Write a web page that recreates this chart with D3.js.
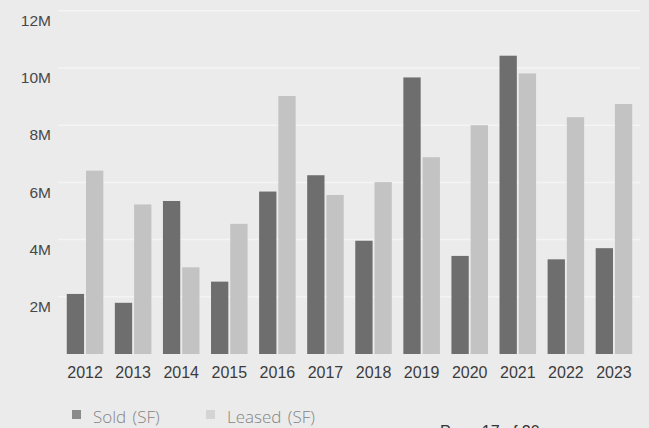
<!DOCTYPE html>
<html>
<head>
<meta charset="utf-8">
<script src="https://cdn.jsdelivr.net/npm/d3@7/dist/d3.min.js"></script>
<style>
  html, body { margin: 0; padding: 0; background: #ebebeb; overflow: hidden; }
  svg { display: block; }
</style>
</head>
<body>
<svg id="chart" width="649" height="428"></svg>
<script>
// Annual square footage sold vs. leased, in millions of SF
const years = ["2012","2013","2014","2015","2016","2017","2018","2019","2020","2021","2022","2023"];
const seriesNames = ["Sold (SF)", "Leased (SF)"];
const sold   = [2.10, 1.79, 5.35, 2.53, 5.68, 6.25, 3.96, 9.67, 3.43, 10.43, 3.31, 3.70];
const leased = [6.41, 5.23, 3.03, 4.55, 9.02, 5.56, 6.01, 6.88, 8.00, 9.81, 8.28, 8.74];
const yTicks = [2, 4, 6, 8, 10, 12];
const yTickLabels = ["2M", "4M", "6M", "8M", "10M", "12M"];
const footerText = "Page 17 of 20";

const W = 649, H = 428;
const svg = d3.select("#chart");

svg.append("rect").attr("width", W).attr("height", H).attr("fill", "#ebebeb");

const rows = years.map((yr, i) => ({ year: yr, values: [sold[i], leased[i]] }));

const x0 = d3.scaleBand().domain(years).range([61, 638]).paddingInner(0.24).paddingOuter(0.12);
const x1 = d3.scaleBand().domain(d3.range(seriesNames.length)).range([0, x0.bandwidth()]).paddingInner(0.1);
const y = d3.scaleLinear().domain([0, 12]).range([354, 10.8]);
const colors = ["#6e6e6e", "#c3c3c3"];

// faint horizontal gridlines
svg.append("g")
  .selectAll("line")
  .data(yTicks)
  .join("line")
  .attr("x1", 58).attr("x2", 640)
  .attr("y1", d => y(d)).attr("y2", d => y(d))
  .attr("stroke", "#f4f4f4").attr("stroke-width", 1.5);

// y-axis labels hang just below their gridline
const yAxis = d3.axisLeft(y).tickValues(yTicks)
  .tickFormat((d, i) => yTickLabels[i]).tickSize(0).tickPadding(0);
svg.append("g")
  .attr("transform", "translate(51,0)")
  .call(yAxis)
  .call(g => g.select(".domain").remove())
  .call(g => g.selectAll("text")
    .attr("dy", "0.95em")
    .attr("fill", "#484848")
    .style("font-family", "'Liberation Sans', Arial, sans-serif")
    .style("font-size", "15.5px"));

// bars
svg.append("g")
  .selectAll("g")
  .data(rows)
  .join("g")
  .attr("transform", d => `translate(${x0(d.year)},0)`)
  .selectAll("rect")
  .data(d => d.values.map((v, k) => ({ v, k })))
  .join("rect")
  .attr("x", d => x1(d.k))
  .attr("width", x1.bandwidth())
  .attr("y", d => y(d.v))
  .attr("height", d => y(0) - y(d.v))
  .attr("fill", d => colors[d.k]);

// x-axis year labels
const xAxis = d3.axisBottom(x0).tickSize(0).tickPadding(0);
svg.append("g")
  .attr("transform", "translate(0,367)")
  .call(xAxis)
  .call(g => g.select(".domain").remove())
  .call(g => g.selectAll("text")
    .attr("dy", "0.71em")
    .attr("fill", "#3c3c3c")
    .style("font-family", "'Liberation Sans', Arial, sans-serif")
    .style("font-size", "16px"));

// legend
const legendX = [72, 206];
const legend = svg.append("g")
  .selectAll("g")
  .data(seriesNames)
  .join("g")
  .attr("transform", (d, i) => `translate(${legendX[i]},410)`);
legend.append("rect")
  .attr("width", 9).attr("height", 9)
  .attr("fill", (d, i) => i === 0 ? "#8a8a8a" : "#d4d4d4");
legend.append("text")
  .attr("x", 21).attr("y", 12.5)
  .attr("fill", "#858585")
  .style("font-family", "'Open Sans', sans-serif")
  .style("font-size", "17px")
  .style("font-weight", 300)
  .style("word-spacing", "2px")
  .text(d => d);

// page footer, running off the bottom edge of the page
svg.append("text")
  .attr("x", 440).attr("y", 437)
  .attr("fill", "#333")
  .style("font-family", "'Liberation Sans', Arial, sans-serif")
  .style("font-size", "16px")
  .text(footerText);
</script>
</body>
</html>
